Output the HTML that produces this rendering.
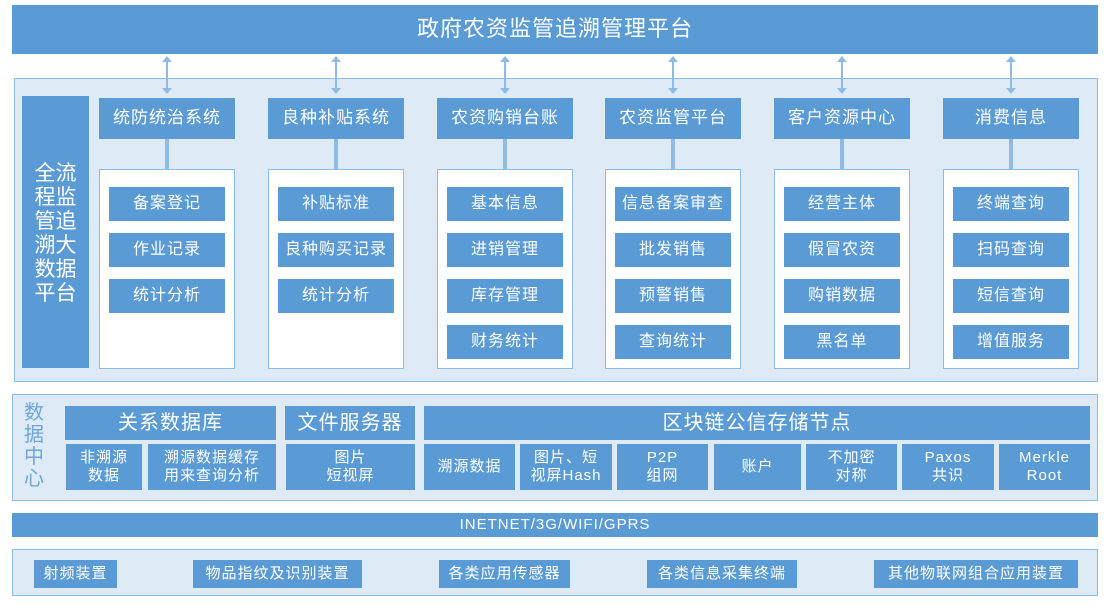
<!DOCTYPE html>
<html><head><meta charset="utf-8"><style>
*{margin:0;padding:0;box-sizing:border-box}
body{width:1111px;height:605px;background:#fff;position:relative;overflow:hidden;font-family:"Liberation Sans","Noto Sans CJK SC",sans-serif}
.a{position:absolute}
.b{position:absolute;background:#5b9bd5;color:#fff;display:flex;align-items:center;justify-content:center;text-align:center;line-height:1.2;letter-spacing:1px}
.p{position:absolute;background:#deebf7;border:1.5px solid #8dbbe6}
.w{position:absolute;background:#fff;border:1.5px solid #8dbbe6}
.l{position:absolute;background:#8dbbe6}
</style></head><body>
<div class="b" style="left:12px;top:5px;width:1086px;height:49px;font-size:22px">政府农资监管追溯管理平台</div>

<div class="p" style="left:14px;top:78px;width:1084px;height:304px"></div>
<div class="b" style="left:22px;top:96px;width:67px;height:272px;font-size:21px;line-height:1.15;padding-top:4px;letter-spacing:0">全流<br>程监<br>管追<br>溯大<br>数据<br>平台</div>

<div id="cols"></div>

<div class="p" style="left:12px;top:394px;width:1086px;height:107px"></div>
<div class="a" style="left:22px;top:402px;width:24px;font-size:20px;line-height:22px;color:#6fa5d8;text-align:center">数<br>据<br>中<br>心</div>
<div class="b" style="left:65px;top:406px;width:211px;height:34px;font-size:20px">关系数据库</div>
<div class="b" style="left:66px;top:444px;width:76px;height:46px;font-size:15px">非溯源<br>数据</div>
<div class="b" style="left:148px;top:444px;width:128px;height:46px;font-size:15px">溯源数据缓存<br>用来查询分析</div>
<div class="b" style="left:285px;top:406px;width:130px;height:34px;font-size:20px">文件服务器</div>
<div class="b" style="left:286px;top:444px;width:129px;height:46px;font-size:15px">图片<br>短视屏</div>
<div class="b" style="left:424px;top:406px;width:666px;height:34px;font-size:20px">区块链公信存储节点</div>
<div class="b" style="left:424px;top:444px;width:91px;height:46px;font-size:15px">溯源数据</div>
<div class="b" style="left:520px;top:444px;width:92px;height:46px;font-size:15px">图片、短<br>视屏Hash</div>
<div class="b" style="left:617px;top:444px;width:91px;height:46px;font-size:15px">P2P<br>组网</div>
<div class="b" style="left:714px;top:444px;width:87px;height:46px;font-size:15px">账户</div>
<div class="b" style="left:806px;top:444px;width:91px;height:46px;font-size:15px">不加密<br>对称</div>
<div class="b" style="left:902px;top:444px;width:92px;height:46px;font-size:15px">Paxos<br>共识</div>
<div class="b" style="left:999px;top:444px;width:91px;height:46px;font-size:15px">Merkle<br>Root</div>

<div class="b" style="left:12px;top:513px;width:1086px;height:24px;font-size:15px">INETNET/3G/WIFI/GPRS</div>

<div class="p" style="left:12px;top:549px;width:1086px;height:47px"></div>
<div class="b" style="left:34px;top:560px;width:83px;height:28px;font-size:15px">射频装置</div>
<div class="b" style="left:193px;top:560px;width:169px;height:28px;font-size:15px">物品指纹及识别装置</div>
<div class="b" style="left:439px;top:560px;width:131px;height:28px;font-size:15px">各类应用传感器</div>
<div class="b" style="left:647px;top:560px;width:150px;height:28px;font-size:15px">各类信息采集终端</div>
<div class="b" style="left:874px;top:560px;width:204px;height:28px;font-size:15px">其他物联网组合应用装置</div>

<script>
var H=["统防统治系统","良种补贴系统","农资购销台账","农资监管平台","客户资源中心","消费信息"];
var I=[["备案登记","作业记录","统计分析"],["补贴标准","良种购买记录","统计分析"],["基本信息","进销管理","库存管理","财务统计"],["信息备案审查","批发销售","预警销售","查询统计"],["经营主体","假冒农资","购销数据","黑名单"],["终端查询","扫码查询","短信查询","增值服务"]];
var X=[99,268,437,605,774,943],s="";
for(var i=0;i<6;i++){var x=X[i],c=x+68;
s+='<div class="l" style="left:'+(c-1)+'px;top:60px;width:2px;height:31px"></div>';
s+='<svg class="a" style="left:'+(c-6)+'px;top:55px" width="12" height="40"><path d="M1 7 L6 1 L11 7Z M1 33 L6 39 L11 33Z" fill="#8dbbe6"/></svg>';
s+='<div class="b" style="left:'+x+'px;top:98px;width:136px;height:41px;font-size:17px">'+H[i]+'</div>';
s+='<div class="l" style="left:'+(c-2)+'px;top:139px;width:4px;height:30px"></div>';
s+='<div class="w" style="left:'+x+'px;top:169px;width:136px;height:200px"></div>';
for(var j=0;j<I[i].length;j++)s+='<div class="b" style="left:'+(x+10)+'px;top:'+(187+j*46)+'px;width:116px;height:34px;font-size:16px">'+I[i][j]+'</div>';}
document.getElementById("cols").innerHTML=s;
</script>
</body></html>
